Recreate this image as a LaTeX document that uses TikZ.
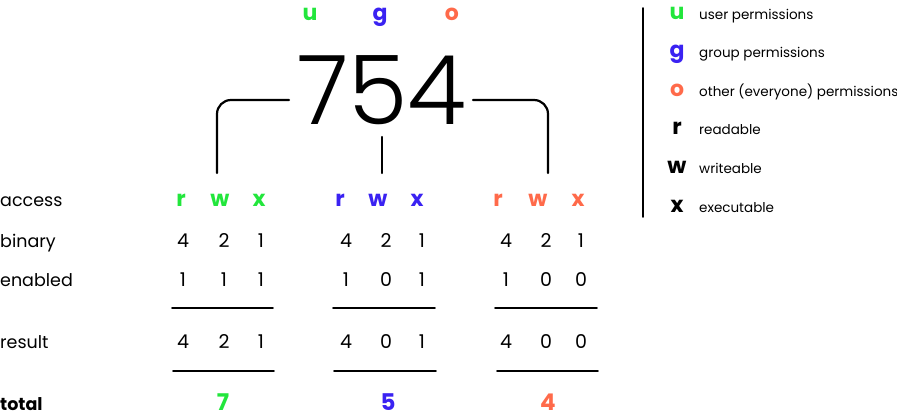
\documentclass[tikz,border=0pt]{standalone}
\usepackage{fontspec}
\setmainfont{Poppins}
\newfontfamily\thinfont{Poppins}[UprightFont={* Light}]
\usetikzlibrary{positioning,calc}
\definecolor{usercol}{HTML}{22E63C}
\definecolor{groupcol}{HTML}{3A22F2}
\definecolor{othercol}{HTML}{FF6A4A}

\begin{document}
\begin{tikzpicture}[x=1pt, y=-1pt, line cap=round,
    every node/.style={inner sep=0pt, anchor=base},
    rowlabel/.style={anchor=base west, font=\fontsize{17.5}{19}\selectfont},
    digit/.style={font=\fontsize{19}{21}\selectfont},
    letter/.style={font=\fontsize{22}{24}\selectfont\bfseries},
    sumdigit/.style={font=\fontsize{23}{25}\selectfont\bfseries},
    legendkey/.style={font=\fontsize{22}{24}\selectfont\bfseries},
    legendtext/.style={anchor=base west, font=\fontsize{13.5}{16}\selectfont},
    rule/.style={line width=1.8pt},
    bracket/.style={line width=2.2pt, rounded corners=14pt}]
  \useasboundingbox (0,0) rectangle (897,417);

  % owner letters and the mode number
  \node[letter, usercol]  (uTop) at (310,21) {u};
  \node[letter, groupcol] (gTop) at (380,21) {g};
  \node[letter, othercol] (oTop) at (452,21) {o};
  \node[font=\fontsize{96}{96}\selectfont\thinfont] (num) at (382,125) {754};

  % bracket from the number down to the three groups
  \coordinate (armL) at (217,173);
  \coordinate (armM) at (382,173);
  \coordinate (armR) at (548,173);
  \draw[bracket] (289,100) -| (armL);
  \draw[bracket] (473,100) -| (armR);
  \draw[bracket] (382,137) -- (armM);

  % row labels
  \node[rowlabel] (access)  at (0,206) {access};
  \node[rowlabel] (binary)  at (0,247) {binary};
  \node[rowlabel] (enabled) at (0,286) {enabled};
  \node[rowlabel] (result)  at (0,348) {result};
  \node[rowlabel, font=\fontsize{17.5}{19}\selectfont\bfseries] (total) at (0,410) {total};

  % user group
  \node[letter, usercol] (r1) at (181,206) {r};
  \node[letter, usercol] (w1) at (220,206) {w};
  \node[letter, usercol] (x1) at (259,206) {x};
  \foreach \d/\xa/\n in {4/183/a, 2/224/b, 1/261/c}
    \node[digit] (bin1\n) at (\xa,247) {\d};
  \foreach \d/\xa/\n in {1/183/a, 1/224/b, 1/261/c}
    \node[digit] (en1\n) at (\xa,286) {\d};
  \draw[rule] (172,308) -- (273,308);
  \foreach \d/\xa/\n in {4/183/a, 2/224/b, 1/261/c}
    \node[digit] (res1\n) at (\xa,348) {\d};
  \draw[rule] (173,371) -- (274,371);
  \node[sumdigit, usercol] (tot1) at (223,410) {7};

  % group group
  \node[letter, groupcol] (r2) at (340,206) {r};
  \node[letter, groupcol] (w2) at (378,206) {w};
  \node[letter, groupcol] (x2) at (417,206) {x};
  \foreach \d/\xa/\n in {4/346/a, 2/386/b, 1/422/c}
    \node[digit] (bin2\n) at (\xa,247) {\d};
  \foreach \d/\xa/\n in {1/346/a, 0/386/b, 1/422/c}
    \node[digit] (en2\n) at (\xa,286) {\d};
  \draw[rule] (333,308) -- (435,308);
  \foreach \d/\xa/\n in {4/346/a, 0/386/b, 1/422/c}
    \node[digit] (res2\n) at (\xa,348) {\d};
  \draw[rule] (334,371) -- (436,371);
  \node[sumdigit, groupcol] (tot2) at (388,410) {5};

  % other group
  \node[letter, othercol] (r3) at (498,206) {r};
  \node[letter, othercol] (w3) at (538,206) {w};
  \node[letter, othercol] (x3) at (578,206) {x};
  \foreach \d/\xa/\n in {4/506/a, 2/546/b, 1/581/c}
    \node[digit] (bin3\n) at (\xa,247) {\d};
  \foreach \d/\xa/\n in {1/506/a, 0/546/b, 0/581/c}
    \node[digit] (en3\n) at (\xa,286) {\d};
  \draw[rule] (495,308) -- (597,308);
  \foreach \d/\xa/\n in {4/506/a, 0/546/b, 0/581/c}
    \node[digit] (res3\n) at (\xa,348) {\d};
  \draw[rule] (497,371) -- (598,371);
  \node[sumdigit, othercol] (tot3) at (548,410) {4};

  % legend
  \draw[line width=1.8pt] (643,8) -- (643,217);
  \node[legendkey, usercol]  (keyU) at (677,20)  {u};
  \node[legendkey, groupcol] (keyG) at (677,58)  {g};
  \node[legendkey, othercol] (keyO) at (677,97)  {o};
  \node[legendkey] (keyR) at (677,135) {r};
  \node[legendkey] (keyW) at (677,173) {w};
  \node[legendkey] (keyX) at (677,212) {x};
  \node[legendtext] (txtU) at (699,20)  {user permissions};
  \node[legendtext] (txtG) at (699,58)  {group permissions};
  \node[legendtext] (txtO) at (699,97)  {other (everyone) permissions};
  \node[legendtext] (txtR) at (699,135) {readable};
  \node[legendtext] (txtW) at (699,173) {writeable};
  \node[legendtext] (txtX) at (699,212) {executable};
\end{tikzpicture}
\end{document}
